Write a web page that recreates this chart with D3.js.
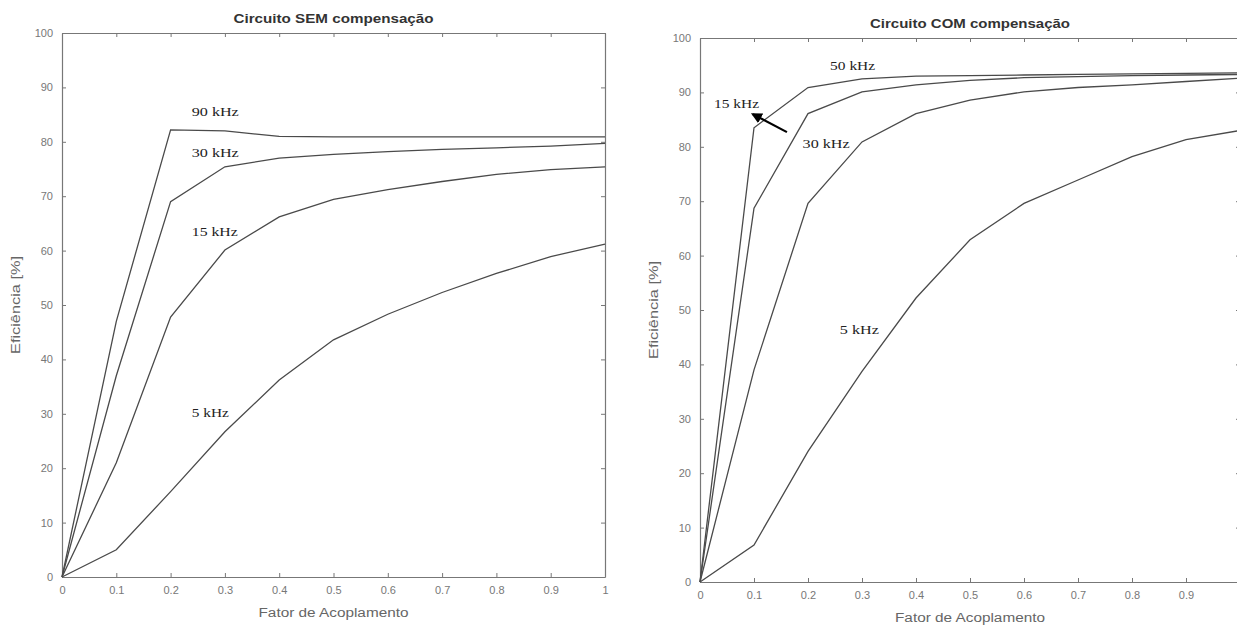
<!DOCTYPE html>
<html>
<head>
<meta charset="utf-8">
<script src="https://cdn.jsdelivr.net/npm/d3@7"></script>
<style>
  body { margin: 0; background: #fff; }
  svg { display: block; }
</style>
</head>
<body>
<svg id="chart"></svg>
<script>
// coupling factor samples (x axis)
const kValues = [0, 0.1, 0.2, 0.3, 0.4, 0.5, 0.6, 0.7, 0.8, 0.9, 1.0];
const xTicks = [0, 0.1, 0.2, 0.3, 0.4, 0.5, 0.6, 0.7, 0.8, 0.9, 1];
const yTicks = [0, 10, 20, 30, 40, 50, 60, 70, 80, 90, 100];

// efficiency [%] - circuit without compensation
const sem90 = [0, 47, 82.2, 82.0, 81.0, 80.9, 80.9, 80.9, 80.9, 80.9, 80.9];
const sem30 = [0, 37, 69.0, 75.4, 77.0, 77.7, 78.2, 78.6, 78.9, 79.2, 79.7];
const sem15 = [0, 21, 47.8, 60.1, 66.2, 69.4, 71.2, 72.7, 74.0, 74.9, 75.4];
const sem5 = [0, 5.0, 15.7, 26.7, 36.2, 43.6, 48.3, 52.3, 55.8, 58.9, 61.2];

// efficiency [%] - circuit with compensation
const com50 = [0, 83.5, 90.9, 92.5, 93.0, 93.1, 93.2, 93.3, 93.4, 93.5, 93.6];
const com15 = [0, 68.7, 86.1, 90.1, 91.4, 92.2, 92.7, 92.9, 93.1, 93.2, 93.3];
const com30 = [0, 39, 69.6, 80.9, 86.1, 88.6, 90.1, 90.9, 91.4, 92.0, 92.6];
const com5 = [0, 6.8, 24.0, 38.7, 52.2, 62.9, 69.6, 73.9, 78.2, 81.3, 83.0];

const W = 1237, H = 625;
const svg = d3.select("#chart").attr("width", W).attr("height", H);

const LINE = "#4a4a4a";
const AXIS = "#777";

function drawPanel(cfg) {
  const x = d3.scaleLinear().domain([0, 1]).range([cfg.x0, cfg.x1]);
  const y = d3.scaleLinear().domain([0, 100]).range([cfg.yBottom, cfg.yTop]);
  const g = svg.append("g");

  // axes, matlab style: inward ticks on all four sides
  const fmt = d3.format("~g");
  // the right panel runs off the page, so skip labels that would land outside it
  const xFmt = d => (x(d) < W - 8 ? fmt(d) : "");
  const bottom = g.append("g").attr("transform", "translate(0," + cfg.yBottom + ")")
    .call(d3.axisBottom(x).tickValues(xTicks).tickFormat(xFmt).tickSizeInner(-4).tickSizeOuter(0).tickPadding(9));
  const top = g.append("g").attr("transform", "translate(0," + cfg.yTop + ")")
    .call(d3.axisTop(x).tickValues(xTicks).tickFormat("").tickSizeInner(-4).tickSizeOuter(0));
  const left = g.append("g").attr("transform", "translate(" + cfg.x0 + ",0)")
    .call(d3.axisLeft(y).tickValues(yTicks).tickFormat(fmt).tickSizeInner(-4).tickSizeOuter(0).tickPadding(9));
  const right = g.append("g").attr("transform", "translate(" + cfg.x1 + ",0)")
    .call(d3.axisRight(y).tickValues(yTicks).tickFormat("").tickSizeInner(-4).tickSizeOuter(0));

  [bottom, top, left, right].forEach(a => {
    a.select(".domain").attr("stroke", AXIS).attr("stroke-width", 1.2);
    a.selectAll(".tick line").attr("stroke", AXIS);
    a.selectAll("text")
      .attr("fill", "#777")
      .style("font-family", "'Liberation Sans', Arial, sans-serif")
      .style("font-size", "11px");
  });

  // curves
  const line = d3.line().x((d, i) => x(kValues[i])).y(d => y(d));
  cfg.series.forEach(s => {
    g.append("path")
      .datum(s)
      .attr("fill", "none")
      .attr("stroke", LINE)
      .attr("stroke-width", 1.3)
      .attr("d", line);
  });

  // title and axis labels
  g.append("text")
    .attr("x", (cfg.x0 + cfg.x1) / 2)
    .attr("y", cfg.yTop - 10)
    .attr("text-anchor", "middle")
    .attr("textLength", 200)
    .attr("lengthAdjust", "spacingAndGlyphs")
    .style("font-family", "'Liberation Sans', Arial, sans-serif")
    .style("font-size", "12px")
    .style("font-weight", "bold")
    .attr("fill", "#333")
    .text(cfg.title);

  g.append("text")
    .attr("x", (cfg.x0 + cfg.x1) / 2)
    .attr("y", cfg.yBottom + 40)
    .attr("text-anchor", "middle")
    .attr("textLength", 150)
    .attr("lengthAdjust", "spacingAndGlyphs")
    .style("font-family", "'Liberation Sans', Arial, sans-serif")
    .style("font-size", "12px")
    .attr("fill", "#666")
    .text("Fator de Acoplamento");

  g.append("text")
    .attr("transform", "translate(" + (cfg.x0 - 42) + "," + ((cfg.yTop + cfg.yBottom) / 2) + ") rotate(-90)")
    .attr("text-anchor", "middle")
    .attr("textLength", 98)
    .attr("lengthAdjust", "spacingAndGlyphs")
    .style("font-family", "'Liberation Sans', Arial, sans-serif")
    .style("font-size", "13px")
    .attr("fill", "#666")
    .text("Eficiência [%]");

  // curve labels
  cfg.labels.forEach(l => {
    g.append("text")
      .attr("x", x(l.k))
      .attr("y", y(l.v))
      .attr("dy", "0.35em")
      .attr("textLength", l.w)
      .attr("lengthAdjust", "spacingAndGlyphs")
      .style("font-family", "'Liberation Serif', 'Times New Roman', serif")
      .style("font-size", "13px")
      .attr("fill", "#222")
      .text(l.text);
  });

  if (cfg.arrow) {
    const a = cfg.arrow;
    g.append("line")
      .attr("x1", x(a.from[0])).attr("y1", y(a.from[1]))
      .attr("x2", x(a.to[0])).attr("y2", y(a.to[1]))
      .attr("stroke", "#000")
      .attr("stroke-width", 2.2)
      .attr("marker-end", "url(#arrowHead)");
  }
}

svg.append("defs").append("marker")
  .attr("id", "arrowHead")
  .attr("viewBox", "0 0 10 10")
  .attr("refX", 8).attr("refY", 5)
  .attr("markerWidth", 5).attr("markerHeight", 5)
  .attr("orient", "auto")
  .append("path")
  .attr("d", "M0,0 L10,5 L0,10 z")
  .attr("fill", "#000");

drawPanel({
  title: "Circuito SEM compensação",
  x0: 62, x1: 605, yTop: 33, yBottom: 577,
  series: [sem90, sem30, sem15, sem5],
  labels: [
    {text: "90 kHz", k: 0.239, v: 85.5, w: 47},
    {text: "30 kHz", k: 0.239, v: 78.1, w: 47},
    {text: "15 kHz", k: 0.239, v: 63.6, w: 46},
    {text: "5 kHz", k: 0.239, v: 30.3, w: 37}
  ]
});

drawPanel({
  title: "Circuito COM compensação",
  x0: 700, x1: 1240, yTop: 38, yBottom: 582,
  series: [com50, com15, com30, com5],
  labels: [
    {text: "50 kHz", k: 0.241, v: 94.9, w: 45},
    {text: "15 kHz", k: 0.026, v: 88.0, w: 45},
    {text: "30 kHz", k: 0.19, v: 80.7, w: 47},
    {text: "5 kHz", k: 0.259, v: 46.5, w: 39}
  ],
  arrow: {from: [0.161, 82.7], to: [0.098, 86.0]}
});
</script>
</body>
</html>
